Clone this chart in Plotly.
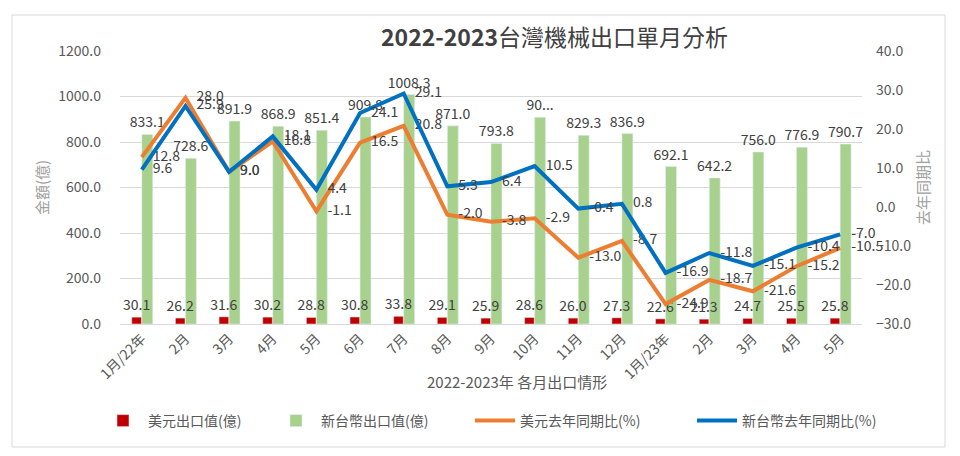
import plotly.graph_objects as go

months = ["2022-01","2022-02","2022-03","2022-04","2022-05","2022-06","2022-07","2022-08",
          "2022-09","2022-10","2022-11","2022-12","2023-01","2023-02","2023-03","2023-04","2023-05"]
tick_labels = ["1月/22年","2月","3月","4月","5月","6月","7月","8月","9月","10月","11月","12月",
               "1月/23年","2月","3月","4月","5月"]
usd_export = [30.1,26.2,31.6,30.2,28.8,30.8,33.8,29.1,25.9,28.6,26.0,27.3,22.6,21.3,24.7,25.5,25.8]
ntd_export = [833.1,728.6,891.9,868.9,851.4,909.8,1008.3,871.0,793.8,908.6,829.3,836.9,692.1,642.2,756.0,776.9,790.7]
usd_yoy = [12.8,28.0,9.0,16.8,-1.1,16.5,20.8,-2.0,-3.8,-2.9,-13.0,-8.7,-24.9,-18.7,-21.6,-15.2,-10.5]
ntd_yoy = [9.6,25.9,9.0,18.1,4.4,24.1,29.1,5.3,6.4,10.5,-0.4,0.8,-16.9,-11.8,-15.1,-10.4,-7.0]

ntd_text = [f"{v:.1f}" for v in ntd_export]
ntd_text[9] = "90..."  # label truncated in the original chart

FONT = "Noto Sans CJK TC, Noto Sans, sans-serif"
LBL = dict(family=FONT, size=14, color="#404040")

# plot area in pixels
L, R, T, B = 120, 862, 51, 324
W, H = 960, 456
def px(x): return (x - L) / (R - L)
def py(y): return (B - y) / (B - T)

fig = go.Figure()
# green first so that the red labels are drawn on top of the green bars
fig.add_trace(go.Bar(x=months, y=ntd_export, name="新台幣出口值(億)", marker_color="#A9D18E",
                     width=0.25, offset=0.0,
                     text=ntd_text, textposition="outside",
                     textfont=LBL, constraintext="none", cliponaxis=False, legend="legend2"))
fig.add_trace(go.Bar(x=months, y=usd_export, name="美元出口值(億)", marker_color="#C00000",
                     width=0.22, offset=-0.23,
                     text=[f"{v:.1f}" for v in usd_export], textposition="outside",
                     textfont=LBL, constraintext="none", cliponaxis=False, legend="legend"))
mk = dict(size=16, color="rgba(0,0,0,0)", line=dict(width=0))
fig.add_trace(go.Scatter(x=months, y=usd_yoy, name="美元去年同期比(%)", yaxis="y2",
                         mode="lines+markers+text", line=dict(color="#ED7D31", width=4),
                         marker=mk,
                         text=[f"{v:.1f}" for v in usd_yoy], textposition="middle right",
                         textfont=LBL, cliponaxis=False, legend="legend3"))
fig.add_trace(go.Scatter(x=months, y=ntd_yoy, name="新台幣去年同期比(%)", yaxis="y2",
                         mode="lines+markers+text", line=dict(color="#0070C0", width=4),
                         marker=mk,
                         text=[f"{v:.1f}" for v in ntd_yoy], textposition="middle right",
                         textfont=LBL, cliponaxis=False, legend="legend4"))

legfont = dict(family=FONT, size=14, color="#595959")
def leg(xpx):
    return dict(x=px(xpx), y=py(421), xanchor="left", yanchor="middle", orientation="h",
                font=legfont, bgcolor="rgba(0,0,0,0)", itemwidth=40)

fig.update_layout(
    width=W, height=H,
    margin=dict(l=L, r=W - R, t=T, b=H - B),
    paper_bgcolor="white", plot_bgcolor="white",
    font=dict(family=FONT, color="#595959", size=14),
    barmode="overlay",
    showlegend=True,
    legend=leg(98), legend2=leg(271), legend3=leg(470), legend4=leg(692),
    xaxis=dict(type="category", tickvals=months, ticktext=tick_labels, tickangle=-45,
               range=[-0.5, len(months) - 0.5], automargin=False,
               showgrid=False, showline=True, linecolor="#D9D9D9", linewidth=1,
               tickfont=dict(family=FONT, size=14, color="#595959"), ticks=""),
    yaxis=dict(range=[0, 1200], dtick=200, tickformat=".1f", showgrid=True, gridcolor="#D9D9D9",
               zeroline=False, ticklabelstandoff=18, automargin=False,
               tickfont=dict(family=FONT, size=14, color="#595959"),
               title=dict(text="金額(億)", font=dict(family=FONT, size=15, color="#A0A0A0"), standoff=6)),
    yaxis2=dict(range=[-30, 40], dtick=10, tickformat=".1f", overlaying="y", side="right",
                showgrid=False, zeroline=False, ticklabelstandoff=13, automargin=False,
                tickfont=dict(family=FONT, size=14, color="#595959"),
                title=dict(text="去年同期比", font=dict(family=FONT, size=15, color="#A0A0A0"), standoff=8)),
    shapes=[dict(type="rect", xref="paper", yref="paper",
                 x0=px(12), x1=px(945), y0=py(447), y1=py(15),
                 line=dict(color="#D9D9D9", width=1), layer="below")],
    annotations=[
        dict(text="<b>2022-2023</b>台灣機械出口單月分析", xref="paper", yref="paper",
             x=px(554), y=py(36), xanchor="center", yanchor="middle", showarrow=False,
             font=dict(family=FONT, size=23, color="#404040")),
        dict(text="2022-2023年 各月出口情形", xref="paper", yref="paper",
             x=px(517), y=py(381), xanchor="center", yanchor="middle", showarrow=False,
             font=dict(family=FONT, size=15, color="#595959")),
    ],
)

fig.write_html("out.html", config={"displayModeBar": False},
               post_script="document.body.style.margin='0';")
